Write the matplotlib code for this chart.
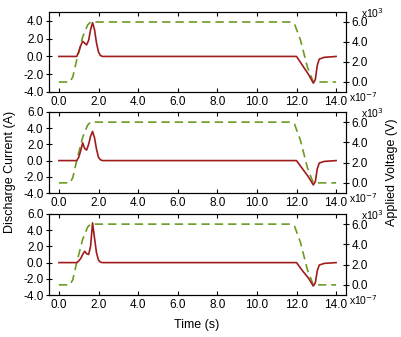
import matplotlib
matplotlib.use('Agg')
import matplotlib.pyplot as plt

plt.rcParams['font.family'] = ['Liberation Sans', 'DejaVu Sans']
plt.rcParams['font.size'] = 8.5

# time axis in units of 1e-7 s
t_volt = [0, 0.55, 0.7, 0.9, 1.2, 1.45, 1.6, 11.7, 11.9, 12.2, 12.55, 12.85, 14.0]
volt_kv = [0, 0, 0.5, 2.2, 4.5, 5.7, 6.0, 6.0, 5.8, 4.2, 1.5, 0.0, 0.0]

t_cur = [0, 0.9, 1.0, 1.1, 1.2, 1.3, 1.4, 1.5, 1.6, 1.7, 1.8, 1.9, 2.0, 2.1, 2.2, 2.5,
         12.0, 12.3, 12.6, 12.85, 12.95, 13.05, 13.15, 13.4, 14.0]
cur_a = [0, 0, 0.5, 1.2, 1.7, 1.5, 1.3, 1.8, 3.0, 3.8, 3.0, 1.5, 0.5, 0.1, 0.0, 0.0,
         0.0, -1.0, -2.0, -3.0, -2.6, -1.0, -0.3, -0.1, 0.0]
cur_b = [0, 0, 0.4, 1.2, 2.2, 1.5, 1.3, 2.0, 3.0, 3.6, 2.8, 1.4, 0.4, 0.1, 0.0, 0.0,
         0.0, -1.0, -2.0, -3.0, -2.6, -1.0, -0.3, -0.1, 0.0]
cur_c = [0, 0, 0.2, 0.5, 1.0, 1.4, 1.1, 1.0, 2.0, 4.9, 3.0, 1.2, 0.3, 0.05, 0.0, 0.0,
         0.0, -1.0, -1.9, -2.9, -2.5, -1.0, -0.3, -0.1, 0.0]

currents = [cur_a, cur_b, cur_c]
left_ylims = [(-4, 5), (-4, 6), (-4, 6)]
left_ticks = [[-4, -2, 0, 2, 4], [-4, -2, 0, 2, 4, 6], [-4, -2, 0, 2, 4, 6]]
x_ticks = [0, 2, 4, 6, 8, 10, 12, 14]
v_ticks = [0, 2, 4, 6]

red = '#a01c1c'
green = '#6b9b22'

fig = plt.figure(figsize=(4.01, 3.37), dpi=100)
L, W = 49 / 401, (346 - 49) / 401
tops = [12, 112, 214]
bots = [92, 193, 295]

for i, cur in enumerate(currents):
    b = 1 - bots[i] / 337
    h = (bots[i] - tops[i]) / 337
    ax = fig.add_axes([L, b, W, h])
    ax2 = ax.twinx()
    ax.set_zorder(ax2.get_zorder() + 1)
    ax.patch.set_visible(False)

    ax2.plot(t_volt, volt_kv, color=green, lw=1.2, ls=(0, (5, 3)))
    ax.plot(t_cur, cur, color=red, lw=1.2)

    ax.set_xlim(-0.5, 14.5)
    ax.set_ylim(*left_ylims[i])
    ax.set_yticks(left_ticks[i])
    ax.set_yticklabels([f'{v:.1f}' for v in left_ticks[i]])
    ax.set_xticks(x_ticks)
    ax.set_xticklabels([f'{v:.1f}' for v in x_ticks])
    ax2.set_ylim(-1, 7)
    ax2.set_yticks(v_ticks)
    ax2.set_yticklabels([f'{v:.1f}' for v in v_ticks])

    ax.tick_params(axis='x', direction='in', top=True, length=3, pad=3)
    ax.tick_params(axis='y', direction='inout', length=4, pad=2)
    ax2.tick_params(axis='y', direction='inout', length=4, pad=2)

    ax2.text(1.05, 0.985, 'x10$^3$', transform=ax2.transAxes, ha='left', va='center', fontsize=7.5)
    ax.text(1.01, -0.065, 'x10$^{-7}$', transform=ax.transAxes, ha='left', va='center', fontsize=7.5)

fig.text(0.025, 0.49, 'Discharge Current (A)', rotation=90, ha='center', va='center', fontsize=9)
fig.text(0.978, 0.49, 'Applied Voltage (V)', rotation=90, ha='center', va='center', fontsize=9)
fig.text(0.49, 0.035, 'Time (s)', ha='center', va='center', fontsize=9)

fig.savefig('out.png', dpi=100)
